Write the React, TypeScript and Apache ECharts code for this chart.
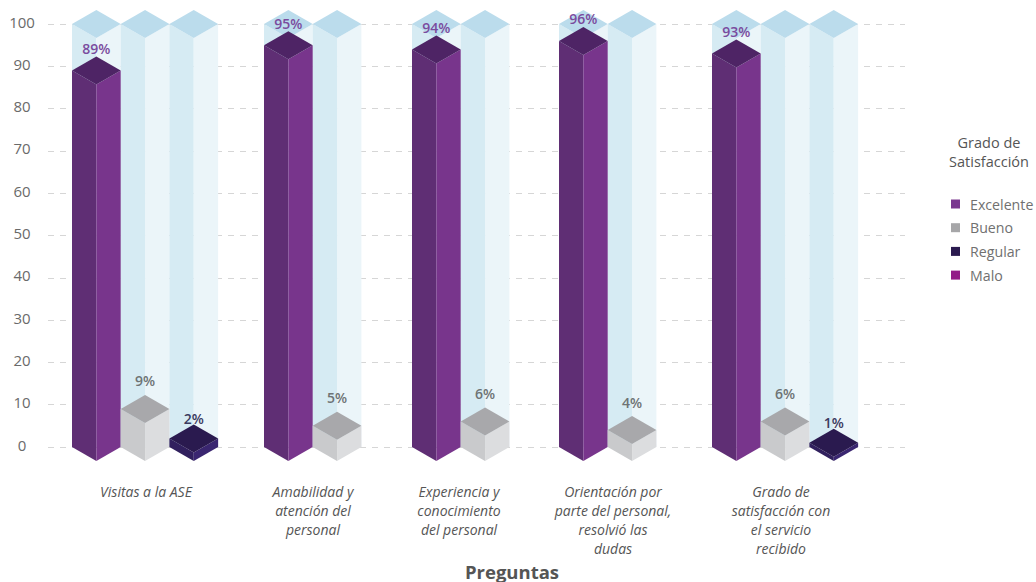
import React, { useEffect, useRef } from "react";
import * as echarts from "echarts";

// Survey results per question
const questions = [
  "Visitas a la ASE",
  "Amabilidad y\natención del\npersonal",
  "Experiencia y\nconocimiento\ndel personal",
  "Orientación por\nparte del personal,\nresolvió las\ndudas",
  "Grado de\nsatisfacción con\nel servicio\nrecibido",
];
const excelente = [89, 95, 94, 96, 93];
const bueno = [9, 5, 6, 4, 6];
const regular = [2, null, null, null, 1];
const malo: (number | null)[] = [null, null, null, null, null];
const yTicksMax = 100;

const legendNames = ["Excelente", "Bueno", "Regular", "Malo"];

// Horizontal layout: the x axis runs in pixel-sized units across the plot
const plotLeft = 48;
const plotRight = 905;
const groupLeft = [72, 264, 412, 559, 712];
const labelCenter = [146, 313, 459, 613, 781];
const columnStep = 48.7;
const diamondDrop = 14;

const palette = {
  track: { left: "#d6ebf3", right: "#ebf5f9", top: "#bbdcec" },
  excelente: { left: "#5f2e74", right: "#78358c", top: "#4e2465", legend: "#7a378f", label: "#7a4b9e" },
  bueno: { left: "#c9cacc", right: "#dcdddf", top: "#a8a8ab", legend: "#a6a6a8", label: "#6e7374" },
  regular: { left: "#31205e", right: "#3a2670", top: "#2a1a4f", legend: "#2a1a4f", label: "#3b3a5f" },
  malo: { left: "#8f1a86", right: "#9c1f90", top: "#7d1676", legend: "#931b88", label: "#931b88" },
};

type Look = { left: string; right: string; top: string; label?: string };

// One isometric column: two side faces and a diamond cap, with its value above it
function prism(look: Look, labelGap: number, flatBase: boolean) {
  return (_params: any, api: any) => {
    const x = api.value(0);
    const value = api.value(1);
    const [cx, yTop] = api.coord([x, value]);
    const [, yBase] = api.coord([x, 0]);
    const half = api.size([columnStep, 0])[0] / 2;
    const baseFront = flatBase ? yBase : yBase + diamondDrop;
    const children: any[] = [
      {
        type: "polygon",
        shape: { points: [[cx - half, yTop], [cx, yTop + diamondDrop], [cx, baseFront], [cx - half, yBase]] },
        style: { fill: look.left },
      },
      {
        type: "polygon",
        shape: { points: [[cx + half, yTop], [cx, yTop + diamondDrop], [cx, baseFront], [cx + half, yBase]] },
        style: { fill: look.right },
      },
      {
        type: "polygon",
        shape: { points: [[cx - half, yTop], [cx, yTop - diamondDrop], [cx + half, yTop], [cx, yTop + diamondDrop]] },
        style: { fill: look.top },
      },
    ];
    if (look.label) {
      children.push({
        type: "text",
        style: {
          text: `${value}%`,
          x: cx,
          y: yTop - diamondDrop - labelGap,
          align: "center",
          verticalAlign: "middle",
          fill: look.label,
          font: '600 14px "Open Sans"',
        },
      });
    }
    return { type: "group", children };
  };
}

// Turns a per-question list into [x, value] points for the given column of each group
function columnPoints(values: (number | null)[], column: number) {
  return values.flatMap((v, i) =>
    v === null ? [] : [[groupLeft[i] + columnStep * column + columnStep / 2, v]],
  );
}

function prismSeries(name: string, data: number[][], look: Look, labelGap: number, flatBase = false, z = 3) {
  return {
    type: "custom",
    name,
    data,
    z,
    clip: false,
    silent: true,
    encode: { x: 0, y: 1 },
    itemStyle: { color: (look as any).legend ?? look.top },
    renderItem: prism(look, labelGap, flatBase),
  };
}

const trackData = [
  ...columnPoints(excelente.map(() => yTicksMax), 0),
  ...columnPoints(bueno.map(() => yTicksMax), 1),
  ...columnPoints(regular.map((v) => (v === null ? null : yTicksMax)), 2),
];

export default function App() {
  const ref = useRef<HTMLDivElement>(null);

  useEffect(() => {
    const chart = echarts.init(ref.current!, null, { renderer: "svg" });
    const family = '"Open Sans", sans-serif';
    chart.setOption({
      animation: false,
      backgroundColor: "#ffffff",
      title: [
        {
          text: "Grado de\nSatisfacción",
          left: 984,
          top: 128,
          textAlign: "center",
          textStyle: { fontFamily: family, fontSize: 14.5, fontWeight: 400, color: "#555555", lineHeight: 19 },
        },
        {
          text: "Preguntas",
          left: 507,
          top: 555,
          textAlign: "center",
          textStyle: { fontFamily: family, fontSize: 18.5, fontWeight: 700, color: "#555555", lineHeight: 22 },
        },
      ],
      legend: {
        orient: "vertical",
        left: 946,
        top: 190,
        icon: "rect",
        itemWidth: 9,
        itemHeight: 9,
        itemGap: 5.7,
        selectedMode: false,
        data: legendNames,
        textStyle: { fontFamily: family, fontSize: 14.2, color: "#707070", lineHeight: 18, padding: [0, 0, 0, 5] },
      },
      grid: { left: plotLeft, top: 24, width: plotRight - plotLeft, height: 423 },
      xAxis: {
        type: "value",
        min: plotLeft,
        max: plotRight,
        splitLine: { show: false },
        axisLine: { show: false },
        axisTick: { show: false },
        axisLabel: {
          customValues: labelCenter,
          margin: 35,
          hideOverlap: false,
          fontFamily: family,
          fontSize: 14,
          fontStyle: "italic",
          color: "#555555",
          lineHeight: 19,
          align: "center",
          verticalAlign: "top",
          formatter: (v: number) => questions[labelCenter.indexOf(v)] ?? "",
        },
      },
      yAxis: {
        type: "value",
        min: 0,
        max: yTicksMax,
        interval: 10,
        axisLine: { show: false },
        axisTick: { show: false },
        axisLabel: {
          margin: 26,
          align: "center",
          verticalAlign: "bottom",
          lineHeight: 5,
          fontFamily: family,
          fontSize: 15,
          color: "#6a6a6a",
        },
        splitLine: { lineStyle: { color: "#d6d6d6", type: [6, 6], width: 1 } },
      },
      series: [
        prismSeries("Fondo", trackData, palette.track, 0, true, 2),
        prismSeries("Excelente", columnPoints(excelente, 0), palette.excelente, 8),
        prismSeries("Bueno", columnPoints(bueno, 1), palette.bueno, 14),
        prismSeries("Regular", columnPoints(regular, 2), palette.regular, 6),
        prismSeries("Malo", columnPoints(malo, 2), palette.malo, 6),
      ],
    });
    return () => chart.dispose();
  }, []);

  return <div ref={ref} style={{ position: "absolute", left: 0, top: 0, width: 1036, height: 582 }} />;
}
